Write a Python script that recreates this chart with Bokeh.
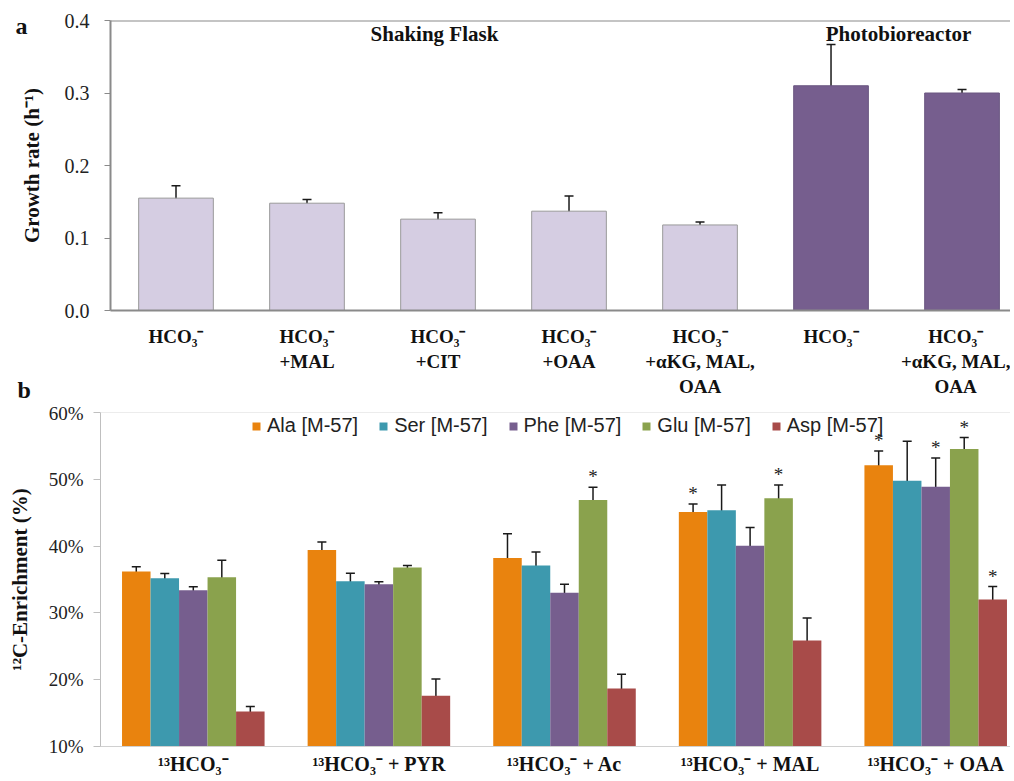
from bokeh.plotting import figure
from bokeh.models import (Range1d, FixedTicker, PrintfTickFormatter, Whisker, TeeHead,
                          ColumnDataSource, Label, Span, Legend, LegendItem, Title, Spacer)
from bokeh.layouts import column, row
from bokeh.embed import file_html
from bokeh.resources import INLINE
from bokeh.core.properties import value

# ---------------- Panel a data ----------------
conditions_a = ["HCO₃⁻", "HCO₃⁻\n+MAL", "HCO₃⁻\n+CIT", "HCO₃⁻\n+OAA",
                "HCO₃⁻\n+αKG, MAL,\nOAA", "HCO₃⁻", "HCO₃⁻\n+αKG, MAL,\nOAA"]
growth_rate = [0.155, 0.148, 0.126, 0.137, 0.118, 0.310, 0.300]
growth_err = [0.017, 0.005, 0.009, 0.021, 0.004, 0.057, 0.005]
culture = ["Shaking Flask"] * 5 + ["Photobioreactor"] * 2
culture_names = ["Shaking Flask", "Photobioreactor"]

# ---------------- Panel b data ----------------
conditions_b = ["¹³HCO₃⁻", "¹³HCO₃⁻ + PYR", "¹³HCO₃⁻ + Ac", "¹³HCO₃⁻ + MAL", "¹³HCO₃⁻ + OAA"]
series_b = ["Ala [M-57]", "Ser [M-57]", "Phe [M-57]", "Glu [M-57]", "Asp [M-57]"]
ala = [36.2, 39.4, 38.2, 45.1, 52.1]
ala_err = [0.7, 1.2, 3.65, 1.2, 2.15]
ser = [35.2, 34.75, 37.1, 45.35, 49.8]
ser_err = [0.7, 1.2, 2.0, 3.8, 5.9]
phe = [33.4, 34.3, 33.0, 40.05, 48.9]
phe_err = [0.5, 0.35, 1.3, 2.75, 4.3]
glu = [35.35, 36.8, 46.9, 47.15, 54.55]
glu_err = [2.55, 0.3, 1.9, 2.0, 1.7]
asp = [15.25, 17.6, 18.7, 25.85, 32.0]
asp_err = [0.75, 2.5, 2.1, 3.4, 1.95]
ala_sig = [False, False, False, True, True]
ser_sig = [False, False, False, False, False]
phe_sig = [False, False, False, False, True]
glu_sig = [False, False, True, True, True]
asp_sig = [False, False, False, False, True]

values_b = [ala, ser, phe, glu, asp]
errors_b = [ala_err, ser_err, phe_err, glu_err, asp_err]
signif_b = [ala_sig, ser_sig, phe_sig, glu_sig, asp_sig]
colors_b = ["#E9830E", "#3D99AE", "#765E8E", "#8AA24D", "#A84B49"]

SERIF = "Liberation Serif"
SANS = "Liberation Sans"

# ================= Panel a =================
pa = figure(width=1000, height=402, x_range=Range1d(0.5, 7.37), y_range=Range1d(0, 0.4),
            output_backend="svg", toolbar_location=None,
            min_border_left=100, min_border_right=0, min_border_top=20, min_border_bottom=92)
pa.outline_line_color = None
pa.xgrid.grid_line_color = None
pa.ygrid.grid_line_color = None

xa = list(range(1, len(growth_rate) + 1))
fills_a = ["#D5CDE2" if c == culture_names[0] else "#765E8E" for c in culture]
lines_a = ["#9a9a9a" if c == culture_names[0] else "#6a5680" for c in culture]
src_a = ColumnDataSource(dict(x=xa, top=growth_rate,
                              upper=[v + e for v, e in zip(growth_rate, growth_err)],
                              lower=[v - e for v, e in zip(growth_rate, growth_err)],
                              fill=fills_a, line=lines_a))
pa.vbar(x="x", top="top", bottom=0, width=0.57, source=src_a,
        fill_color="fill", line_color="line", line_width=1)
pa.add_layout(Whisker(source=src_a, base="x", upper="upper", lower="lower",
                      line_color="#1a1a1a", line_width=1.5,
                      upper_head=TeeHead(size=9, line_color="#1a1a1a", line_width=1.5),
                      lower_head=TeeHead(size=9, line_color="#1a1a1a", line_width=1.5)))

pa.yaxis.ticker = FixedTicker(ticks=[0, 0.1, 0.2, 0.3, 0.4])
pa.yaxis.formatter = PrintfTickFormatter(format="%.1f")
pa.yaxis.axis_label = "Growth rate (h⁻¹)"
ya = pa.yaxis[0]
ya.axis_label_text_font = SERIF
ya.axis_label_text_font_style = "bold"
ya.axis_label_text_font_size = "21px"
ya.axis_label_text_color = "#111111"
ya.axis_label_standoff = 18
ya.major_label_text_font = SERIF
ya.major_label_text_font_size = "20px"
ya.major_label_text_color = "#222222"
ya.major_label_standoff = 15
ya.axis_line_color = "#8a8a8a"
ya.axis_line_width = 2
ya.major_tick_line_color = "#8a8a8a"
ya.major_tick_out = 6
ya.major_tick_in = 0
ya.minor_tick_line_color = None

pa.xaxis.ticker = FixedTicker(ticks=xa)
pa.xaxis.major_label_overrides = {x: lab for x, lab in zip(xa, conditions_a)}
xax = pa.xaxis[0]
xax.major_label_text_font = SERIF
xax.major_label_text_font_style = "bold"
xax.major_label_text_font_size = "19px"
xax.major_label_text_color = "#111111"
xax.major_label_standoff = 9
xax.axis_line_color = "#8a8a8a"
xax.axis_line_width = 2
xax.major_tick_line_color = None
xax.minor_tick_line_color = None

pa.add_layout(Span(location=0.4, dimension="width", line_color="#8a8a8a", line_width=2))

pa.add_layout(Label(x=2.973, y=0.382, text=culture_names[0], text_align="center",
                    text_baseline="middle", text_font=SERIF, text_font_style="bold",
                    text_font_size="21px", text_color="#111111"))
pa.add_layout(Label(x=6.515, y=0.382, text=culture_names[1], text_align="center",
                    text_baseline="middle", text_font=SERIF, text_font_style="bold",
                    text_font_size="21px", text_color="#111111"))

# panel letter "a": title pulled down beside the top of the frame
pa.title.text = "a"
pa.title.align = "left"
pa.title.offset = -95
pa.title.standoff = -36
pa.title.text_font = SERIF
pa.title.text_font_style = "bold"
pa.title.text_font_size = "24px"
pa.title.text_color = "#111111"

# panel letter "b": title below panel a, pulled up into the gap between the panels
pa.add_layout(Title(text="b", align="left", offset=-93, standoff=-46, vertical_align="top",
                    text_font=SERIF, text_font_style="bold", text_font_size="24px",
                    text_color="#111111"), "below")

# ================= Panel b =================
pb = figure(width=1010, height=375, x_range=Range1d(0.5, 5.403), y_range=Range1d(10, 60),
            output_backend="svg", toolbar_location=None,
            min_border_left=100, min_border_right=0, min_border_top=10, min_border_bottom=29)
pb.outline_line_color = None
pb.xgrid.grid_line_color = None
pb.ygrid.grid_line_color = None

group_x = list(range(1, len(conditions_b) + 1))
bw = 0.1536
legend_items = []
star_x, star_y = [], []
for j, (name, vals, errs, sig, col) in enumerate(zip(series_b, values_b, errors_b, signif_b, colors_b)):
    xs = [g + (j - 2) * bw for g in group_x]
    src = ColumnDataSource(dict(x=xs, top=vals,
                                upper=[v + e for v, e in zip(vals, errs)],
                                lower=[v - e for v, e in zip(vals, errs)]))
    r = pb.vbar(x="x", top="top", bottom=10, width=bw, source=src,
                fill_color=col, line_color=None)
    legend_items.append(LegendItem(label=name, renderers=[r]))
    pb.add_layout(Whisker(source=src, base="x", upper="upper", lower="lower",
                          line_color="#1a1a1a", line_width=1.5,
                          upper_head=TeeHead(size=9, line_color="#1a1a1a", line_width=1.5),
                          lower_head=TeeHead(size=9, line_color="#1a1a1a", line_width=1.5)))
    for xx, v, e, s in zip(xs, vals, errs, sig):
        if s:
            star_x.append(xx)
            star_y.append(v + e)

pb.text(x=star_x, y=star_y, text=["*"] * len(star_x), text_align="center",
        text_baseline="bottom", text_font=value(SERIF), text_font_size="19px",
        text_color="#222222")

legend = Legend(items=legend_items, orientation="horizontal", location=(151, 309),
                glyph_width=10, glyph_height=10, label_standoff=6, spacing=20,
                padding=0, margin=0, border_line_color=None, background_fill_alpha=0,
                label_text_font=SANS, label_text_font_size="20px", label_text_color="#222222")
pb.add_layout(legend)

pb.yaxis.ticker = FixedTicker(ticks=[10, 20, 30, 40, 50, 60])
pb.yaxis.formatter = PrintfTickFormatter(format="%d%%")
pb.yaxis.axis_label = "¹²C-Enrichment (%)"
yb = pb.yaxis[0]
yb.axis_label_text_font = SERIF
yb.axis_label_text_font_style = "bold"
yb.axis_label_text_font_size = "21px"
yb.axis_label_text_color = "#111111"
yb.axis_label_standoff = 14
yb.major_label_text_font = SERIF
yb.major_label_text_font_size = "19px"
yb.major_label_text_color = "#222222"
yb.major_label_standoff = 10
yb.axis_line_color = "#bfbfbf"
yb.major_tick_line_color = "#bfbfbf"
yb.major_tick_out = 7
yb.major_tick_in = 0
yb.minor_tick_line_color = None

pb.xaxis.ticker = FixedTicker(ticks=group_x)
pb.xaxis.major_label_overrides = {x: lab for x, lab in zip(group_x, conditions_b)}
xb = pb.xaxis[0]
xb.major_label_text_font = SERIF
xb.major_label_text_font_style = "bold"
xb.major_label_text_font_size = "20px"
xb.major_label_text_color = "#111111"
xb.major_label_standoff = 0
xb.axis_line_color = "#d0d0d0"
xb.major_tick_line_color = None
xb.minor_tick_line_color = None

pb.add_layout(Span(location=60, dimension="width", line_color="#d9d9d9", line_width=1))

layout = column(row(Spacer(width=10, height=402), pa), pb)
open("out.html", "w").write(file_html(layout, INLINE))
